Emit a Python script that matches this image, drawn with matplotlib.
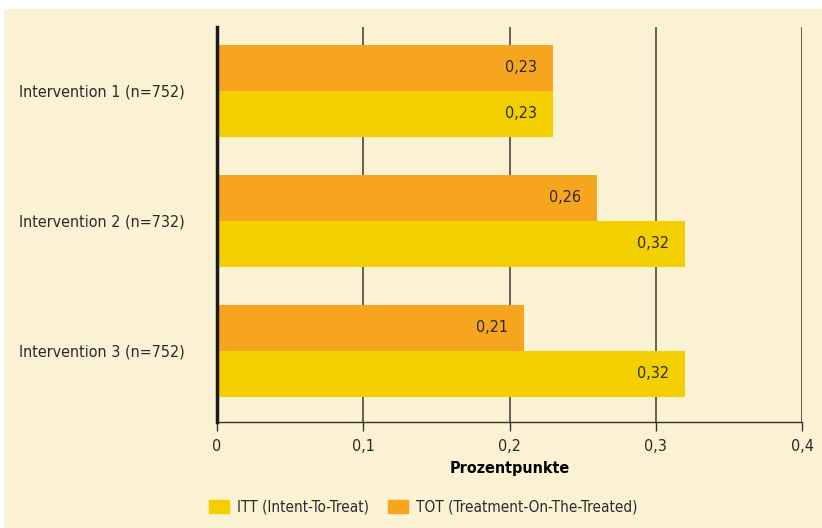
import matplotlib
matplotlib.use('Agg')
import matplotlib.pyplot as plt
import numpy as np
from matplotlib.patches import Rectangle

categories = ['Intervention 1 (n=752)', 'Intervention 2 (n=732)', 'Intervention 3 (n=752)']
itt = [0.23, 0.32, 0.32]
tot = [0.23, 0.26, 0.21]
xticks = [0, 0.1, 0.2, 0.3, 0.4]

cream = '#FBF2D3'
yellow = '#F3CF00'
orange = '#F7A51E'
plt.rcParams['font.family'] = ['DejaVu Sans']
plt.rcParams['font.stretch'] = 'condensed'
plt.rcParams['text.color'] = '#2a2a2a'
plt.rcParams['xtick.color'] = '#2a2a2a'
plt.rcParams['ytick.color'] = '#2a2a2a'

fig = plt.figure(figsize=(8.22, 5.28), dpi=100)
fig.patches.append(Rectangle((4/822, 0), 1, 1 - 9/528, transform=fig.transFigure,
                             facecolor=cream, edgecolor='none', zorder=-10))
ax = fig.add_axes([217/822, 1 - 422/528, 585/822, 395/528])
ax.set_facecolor(cream)

y = np.arange(len(categories))
h = 0.354
ax.barh(y - h/2, tot, height=h, color=orange, zorder=3)
ax.barh(y + h/2, itt, height=h, color=yellow, zorder=3)
for i in range(len(categories)):
    ax.text(tot[i] - 0.011, y[i] - h/2, f'{tot[i]:.2f}'.replace('.', ','), ha='right', va='center', fontsize=11.5, zorder=4)
    ax.text(itt[i] - 0.011, y[i] + h/2, f'{itt[i]:.2f}'.replace('.', ','), ha='right', va='center', fontsize=11.5, zorder=4)

ax.set_ylim(2.546, -0.49)
ax.set_xlim(0, 0.4)
ax.set_yticks(y)
ax.set_yticklabels(categories, fontsize=11.5)
ax.tick_params(axis='y', length=0, pad=23)
ax.set_xticks(xticks)
ax.set_xticklabels([f'{v:g}'.replace('.', ',') for v in xticks], fontsize=11.5)
ax.tick_params(axis='x', length=6.5, width=1, color='#333333', pad=6)
for v in xticks[1:]:
    ax.axvline(v, color='#3a3a3a', lw=1.1, zorder=1)
for s in ['top', 'right']:
    ax.spines[s].set_visible(False)
ax.spines['bottom'].set_color('#333333')
ax.spines['bottom'].set_linewidth(1)
ax.spines['left'].set_linewidth(2.5)
ax.spines['left'].set_color('#1a1a1a')
ax.spines['left'].set_zorder(5)
ax.set_xlabel('Prozentpunkte', fontsize=11.5, fontweight='bold', labelpad=5)

handles = [Rectangle((0, 0), 1, 1, color=yellow), Rectangle((0, 0), 1, 1, color=orange)]
fig.legend(handles, ['ITT (Intent-To-Treat)', 'TOT (Treatment-On-The-Treated)'],
           loc='center left', bbox_to_anchor=(209/822, 1 - 507/528), ncol=2, frameon=False,
           fontsize=11, handlelength=1.31, handleheight=0.92, columnspacing=1.25,
           handletextpad=0.52, borderpad=0, borderaxespad=0)

plt.savefig('out.png', dpi=100)
